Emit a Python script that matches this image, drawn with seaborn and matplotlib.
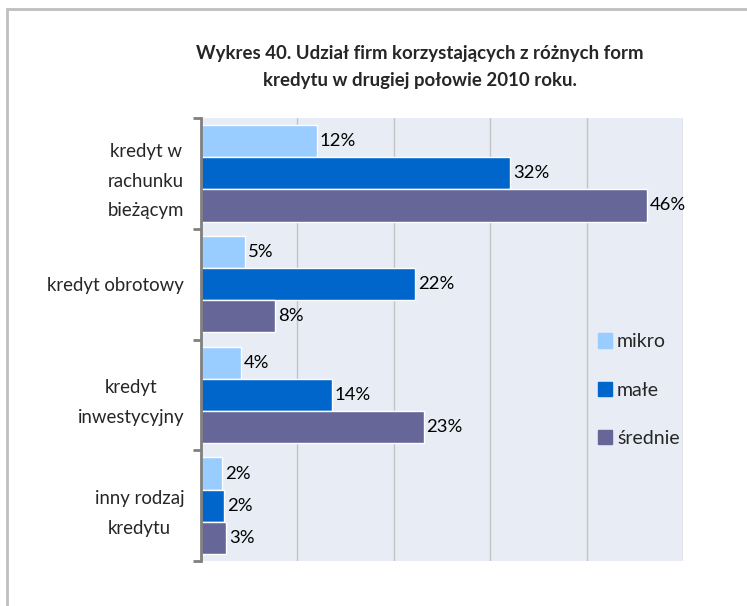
import pandas as pd
import matplotlib.pyplot as plt
import matplotlib.patches as mpatches
import seaborn as sns

# Kategorie kredytu (etykiety osi) i grupy firm
categories = ["kredyt w\nrachunku\nbieżącym", "kredyt obrotowy",
              "kredyt\ninwestycyjny", "inny rodzaj\nkredytu"]
groups = ["mikro", "małe", "średnie"]

# Udział firm (%)
mikro = [12.0, 4.6, 4.2, 2.2]
male = [32.1, 22.2, 13.6, 2.4]
srednie = [46.3, 7.7, 23.1, 2.6]

colors = ["#99CCFF", "#0066CC", "#666699"]

df = pd.DataFrame({
    "kategoria": categories * 3,
    "grupa": [g for g in groups for _ in categories],
    "udzial": mikro + male + srednie,
})

sns.set_style("white")
plt.rcParams["font.family"] = ["Lato", "DejaVu Sans"]

fig = plt.figure(figsize=(7.47, 6.06), dpi=100)
ax = fig.add_axes([201 / 747, 45 / 606, 482 / 747, 443 / 606])
ax.set_facecolor("#E8ECF4")

sns.barplot(data=df, x="udzial", y="kategoria", hue="grupa",
            hue_order=groups, order=categories, palette=colors,
            orient="h", width=0.87, gap=0, saturation=1,
            ax=ax, legend=False)

# etykiety wartości
for cont in ax.containers:
    ax.bar_label(cont, labels=[f"{b.get_width():.0f}%" for b in cont],
                 padding=2, fontsize=13.3, color="#000000")

ax.set_xlim(0, 50)
ax.set_ylim(3.5, -0.5)
ax.set_xticks(range(0, 51, 10))
ax.set_xticklabels([])
ax.tick_params(axis="x", length=0)
ax.grid(axis="x", color="#C4C4C4", linewidth=1)
ax.set_axisbelow(True)
ax.set_xlabel("")
ax.set_ylabel("")

# znaczniki na granicach kategorii, nazwy kategorii jako minor ticks
ax.set_yticks([-0.5, 0.5, 1.5, 2.5, 3.5])
ax.set_yticklabels([])
ax.tick_params(axis="y", which="major", left=True, length=6, width=2,
               color="#808080")
ax.set_yticks(range(len(categories)), minor=True)
ax.set_yticklabels(categories, minor=True, fontsize=13.4, ha="right",
                   multialignment="center", linespacing=1.9)
ax.tick_params(axis="y", which="minor", left=False, length=0, pad=12)

for s in ["top", "right", "bottom"]:
    ax.spines[s].set_visible(False)
ax.spines["left"].set_color("#808080")
ax.spines["left"].set_linewidth(2)

handles = [mpatches.Patch(color=c, label=g) for c, g in zip(colors, groups)]
ax.legend(handles=handles, loc="center left",
          bbox_to_anchor=(580 / 747, 1 - 390 / 606),
          bbox_transform=fig.transFigure, frameon=False, fontsize=14,
          handlelength=0.75, handleheight=0.75, handletextpad=0.25,
          labelspacing=1.6)

fig.text(420 / 747, 1 - 67 / 606,
         "Wykres 40. Udział firm korzystających z różnych form\n"
         "kredytu w drugiej połowie 2010 roku.",
         ha="center", va="center", fontsize=13.4, fontweight="bold",
         linespacing=1.75)

# ramka wokół wykresu
fig.patches.append(mpatches.Rectangle((7 / 747, -0.05), 1.2, 1 - 9 / 606 + 0.05,
                                      transform=fig.transFigure,
                                      fill=False, edgecolor="#BFBFBF",
                                      linewidth=2))

fig.savefig("out.png", dpi=100)
